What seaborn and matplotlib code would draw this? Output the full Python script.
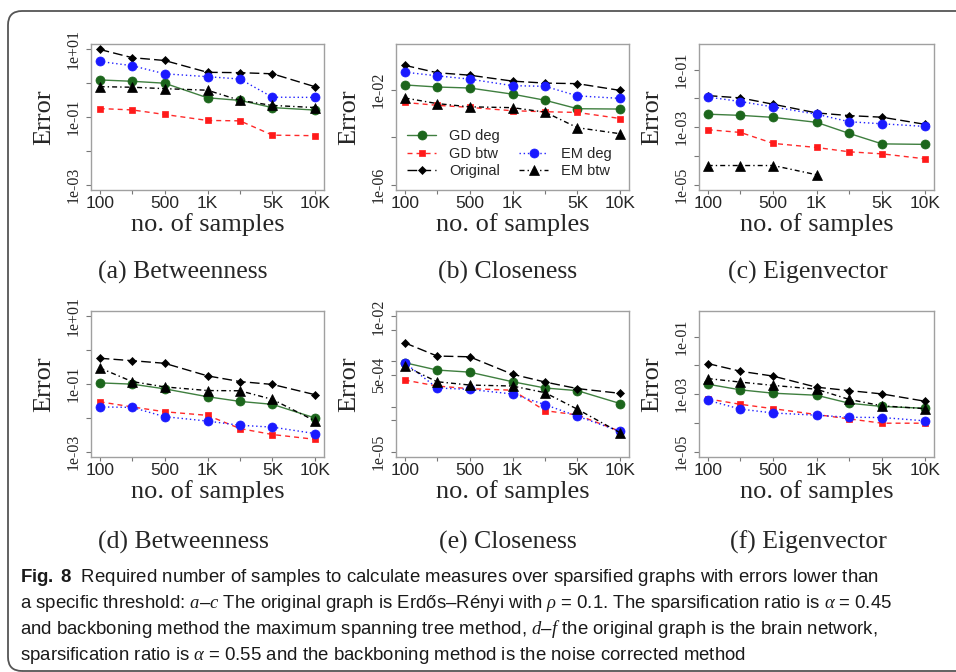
import numpy as np
import matplotlib
matplotlib.use('Agg')
import matplotlib.pyplot as plt
from matplotlib.lines import Line2D
from matplotlib.patches import FancyBboxPatch
from matplotlib.ticker import NullLocator
from matplotlib.transforms import IdentityTransform
import seaborn as sns

sample_sizes = [100, 200, 400, 1000, 2000, 4000, 10000]
x_tick_labels = ['100', '', '500', '1K', '', '5K', '10K']
series_names = ['GD deg', 'GD btw', 'Original', 'EM deg', 'EM btw']

# (a) Betweenness, Erdos-Renyi
a_gd_deg = [1.25, 1.14, 1.0, 0.37, 0.31, 0.19, 0.16]
a_gd_btw = [0.178, 0.162, 0.119, 0.079, 0.077, 0.029, 0.028]
a_original = [10.0, 5.7, 4.7, 2.1, 2.05, 1.9, 0.78]
a_em_deg = [4.4, 3.3, 1.9, 1.56, 1.33, 0.385, 0.38]
a_em_btw = [0.79, 0.76, 0.69, 0.62, 0.31, 0.22, 0.19]

# (b) Closeness
b_gd_deg = [0.0159, 0.013, 0.0118, 0.0065, 0.0036, 0.00158, 0.00153]
b_gd_btw = [0.0029, 0.0022, 0.0018, 0.0013, 0.00118, 0.0011, 0.00061]
b_original = [0.107, 0.052, 0.041, 0.023, 0.019, 0.018, 0.0093]
b_em_deg = [0.055, 0.0385, 0.028, 0.0148, 0.0139, 0.0055, 0.0043]
b_em_btw = [0.0045, 0.0026, 0.0019, 0.00175, 0.00114, 0.00025, 0.000139]

# (c) Eigenvector
c_gd_deg = [0.0028, 0.00255, 0.00217, 0.00146, 0.0006, 0.00026, 0.00025]
c_gd_btw = [0.00081, 0.00065, 0.00027, 0.000195, 0.000138, 0.000117, 0.0000785]
c_original = [0.0124, 0.0103, 0.0062, 0.0031, 0.0025, 0.0022, 0.00124]
c_em_deg = [0.0111, 0.0077, 0.005, 0.0028, 0.00153, 0.0013, 0.00105]
c_em_btw = [4.6e-5, 4.6e-5, 4.6e-5, 2.2e-5, np.nan, np.nan, np.nan]

# (d) Betweenness, brain network
d_gd_deg = [0.108, 0.099, 0.072, 0.042, 0.0305, 0.025, 0.0098]
d_gd_btw = [0.0298, 0.021, 0.0151, 0.0118, 0.0048, 0.0032, 0.0023]
d_original = [0.578, 0.49, 0.41, 0.174, 0.118, 0.097, 0.048]
d_em_deg = [0.021, 0.0203, 0.0108, 0.008, 0.006, 0.0053, 0.0034]
d_em_btw = [0.30, 0.118, 0.082, 0.064, 0.063, 0.035, 0.008]

# (e) Closeness
e_gd_deg = [9.4e-4, 6.45e-4, 5.8e-4, 3.55e-4, 2.58e-4, 2.25e-4, 1.16e-4]
e_gd_btw = [3.87e-4, 2.85e-4, 2.49e-4, 2.3e-4, 8.1e-5, 6.5e-5, 2.8e-5]
e_original = [2.6e-3, 1.32e-3, 1.27e-3, 5.2e-4, 3.5e-4, 2.5e-4, 1.96e-4]
e_em_deg = [9.4e-4, 2.58e-4, 2.4e-4, 1.9e-4, 1.1e-4, 6.1e-5, 2.8e-5]
e_em_btw = [7.9e-4, 3.55e-4, 3.0e-4, 2.85e-4, 2.03e-4, 8.7e-5, 2.6e-5]

# (f) Eigenvector
f_gd_deg = [0.0022, 0.0014, 0.00107, 0.00091, 0.00048, 0.00037, 0.00032]
f_gd_btw = [0.00068, 0.00044, 0.00031, 0.000194, 0.000137, 9.7e-5, 9.7e-5]
f_original = [0.0115, 0.0062, 0.0042, 0.00173, 0.00132, 0.00101, 0.00056]
f_em_deg = [0.00061, 0.0003, 0.00022, 0.000184, 0.000156, 0.000153, 0.000117]
f_em_btw = [0.00346, 0.0026, 0.002, 0.00147, 0.00065, 0.00039, 0.00031]

# y axis ticks / labels per panel
yt_wide = [1e-3, 1e-2, 1e-1, 1, 10]
yl_wide = ['1e-03', '', '1e-01', '', '1e+01']
yt_b = [1e-6, 1e-4, 1e-2]
yl_b = ['1e-06', '', '1e-02']
yt_eig = [1e-5, 1e-4, 1e-3, 1e-2, 1e-1]
yl_eig = ['1e-05', '', '1e-03', '', '1e-01']
yt_e = [1e-5, 5e-5, 1e-4, 5e-4, 1e-3, 5e-3, 1e-2]
yl_e = ['1e-05', '', '', '5e-04', '', '', '1e-02']

subcaptions = ['(a) Betweenness', '(b) Closeness', '(c) Eigenvector',
               '(d) Betweenness', '(e) Closeness', '(f) Eigenvector']

caption_lines = [
    r'$\mathbf{Fig.\ 8}$  Required number of samples to calculate measures over sparsified graphs with errors lower than',
    r'a specific threshold: $\mathit{a}$–$\mathit{c}$ The original graph is Erdős–Rényi with $\rho\,=\,0.1$. The sparsification ratio is $\alpha\,=\,0.45$',
    r'and backboning method the maximum spanning tree method, $\mathit{d}$–$\mathit{f}$ the original graph is the brain network,',
    r'sparsification ratio is $\alpha\,=\,0.55$ and the backboning method is the noise corrected method',
]

sns.set_style('ticks')
plt.rcParams['font.family'] = ['Liberation Sans', 'DejaVu Sans']
plt.rcParams['mathtext.fontset'] = 'custom'
plt.rcParams['mathtext.rm'] = 'Liberation Sans'
plt.rcParams['mathtext.it'] = 'Liberation Serif:italic'
plt.rcParams['mathtext.bf'] = 'Liberation Sans:bold'

styles = {
    'GD deg': dict(color='#3f7f3f', marker='o', markersize=6.5, mfc='#1c661c', mec='#1c661c',
                   linestyle='-'),
    'GD btw': dict(color='#ff2a2a', marker='s', markersize=5, mfc='#ff1a1a', mec='#ff1a1a',
                   linestyle=(0, (3.6, 2.9))),
    'Original': dict(color='black', marker='D', markersize=3.8, mfc='black', mec='black',
                     linestyle=(0, (7, 3))),
    'EM deg': dict(color='#2020ff', marker='o', markersize=6.5, mfc='#1a1aff', mec='#1a1aff',
                   linestyle=(0, (1, 2))),
    'EM btw': dict(color='black', marker='^', markersize=7, mfc='black', mec='black',
                   linestyle=(0, (3.6, 2.2, 1, 2.2))),
}

W, H = 956, 672
fig = plt.figure(figsize=(W / 100, H / 100), dpi=100)


def px_rect(left, top, width, height):
    return [left / W, 1 - (top + height) / H, width / W, height / H]


def draw_panel(rect, values, yticks, ylabels, ylo, yhi, legend=False):
    ax = fig.add_axes(px_rect(*rect))
    ax.set_xscale('log')
    ax.set_yscale('log')
    for name, vals in zip(series_names, values):
        st = styles[name]
        sns.lineplot(x=sample_sizes, y=vals, ax=ax, color=st['color'], marker=st['marker'],
                     markersize=st['markersize'], markerfacecolor=st['mfc'],
                     markeredgecolor=st['mec'], markeredgewidth=0.5,
                     linestyle=st['linestyle'], linewidth=1.0,
                     label=name if legend else None)
    # R style axis padding (4%)
    lx0, lx1 = np.log10(sample_sizes[0]), np.log10(sample_sizes[-1])
    px = 0.04 * (lx1 - lx0)
    ax.set_xlim(10 ** (lx0 - px), 10 ** (lx1 + px))
    ly0, ly1 = np.log10(ylo), np.log10(yhi)
    py = 0.04 * (ly1 - ly0)
    ax.set_ylim(10 ** (ly0 - py), 10 ** (ly1 + py))

    ax.xaxis.set_minor_locator(NullLocator())
    ax.yaxis.set_minor_locator(NullLocator())
    ax.set_xticks(sample_sizes, labels=x_tick_labels, fontsize=12.5,
                  fontfamily=['Liberation Sans'])
    ax.set_yticks(yticks, labels=ylabels, rotation=90, va='center', fontsize=11.5,
                  fontfamily=['Liberation Serif'])
    ax.tick_params(axis='x', length=3, width=0.8, pad=1, color='#777777')
    ax.tick_params(axis='y', length=3.5, width=0.8, pad=3, color='#777777')
    for s in ax.spines.values():
        s.set_color('#a0a0a0')
        s.set_linewidth(1.0)
        s.set_visible(True)

    ax.set_xlabel('no. of samples', fontsize=19, fontfamily=['Liberation Serif'])
    ax.set_ylabel('Error', fontsize=19, fontfamily=['Liberation Serif'])
    ax.xaxis.set_label_coords(0.5, -23 / rect[3])
    ax.yaxis.set_label_coords(-36 / rect[2], 0.5)
    ax.grid(False)
    if not legend and ax.get_legend() is not None:
        ax.get_legend().remove()
    return ax


row1 = (44, 146)
row2 = (311, 146)
col_a = (91, 233)
col_b = (396, 233)
col_c = (699, 235)

draw_panel((col_a[0], row1[0], col_a[1], row1[1]),
           [a_gd_deg, a_gd_btw, a_original, a_em_deg, a_em_btw], yt_wide, yl_wide, 1e-3, 10)
ax_b = draw_panel((col_b[0], row1[0], col_b[1], row1[1]),
                  [b_gd_deg, b_gd_btw, b_original, b_em_deg, b_em_btw], yt_b, yl_b, 1e-6, 0.5,
                  legend=True)
draw_panel((col_c[0], row1[0], col_c[1], row1[1]),
           [c_gd_deg, c_gd_btw, c_original, c_em_deg, c_em_btw], yt_eig, yl_eig, 1e-5, 0.5)
draw_panel((col_a[0], row2[0], col_a[1], row2[1]),
           [d_gd_deg, d_gd_btw, d_original, d_em_deg, d_em_btw], yt_wide, yl_wide, 1e-3, 10)
draw_panel((col_b[0], row2[0], col_b[1], row2[1]),
           [e_gd_deg, e_gd_btw, e_original, e_em_deg, e_em_btw], yt_e, yl_e, 1e-5, 1e-2)
draw_panel((col_c[0], row2[0], col_c[1], row2[1]),
           [f_gd_deg, f_gd_btw, f_original, f_em_deg, f_em_btw], yt_eig, yl_eig, 1e-5, 0.5)

# legend in panel (b): two columns, second column starts one row down
handles, labels = ax_b.get_legend_handles_labels()
blank = Line2D([], [], linestyle='none', marker=None)
handles = handles[:3] + [blank] + handles[3:]
labels = labels[:3] + [''] + labels[3:]
ax_b.legend(handles, labels, ncol=2, loc='upper left',
            bbox_to_anchor=((407 - col_b[0]) / col_b[1], (row1[0] + row1[1] - 129) / row1[1]),
            frameon=False, fontsize=10.5, handlelength=2.0, handletextpad=0.9,
            columnspacing=1.3, labelspacing=0.25, borderpad=0, borderaxespad=0, numpoints=1)

# sub-figure captions
sub_x = [183, 508, 808]
for i, txt in enumerate(subcaptions):
    y = 272 if i < 3 else 542
    fig.text(sub_x[i % 3] / W, 1 - y / H, txt, ha='center', va='center',
             fontsize=18.5, fontfamily=['Liberation Serif'])

# figure caption
for i, line in enumerate(caption_lines):
    fig.text(20 / W, 1 - (582 + 26 * i) / H, line, ha='left', va='baseline',
             fontsize=13.4, fontfamily=['Liberation Sans'], color='#1a1a1a')

# rounded outer frame
frame = FancyBboxPatch((8, H - 671), 1000, 660, boxstyle='round,pad=0,rounding_size=14',
                       transform=IdentityTransform(), fill=False, edgecolor='#555555',
                       linewidth=1.3)
fig.add_artist(frame)

fig.savefig('out.png', dpi=100)
